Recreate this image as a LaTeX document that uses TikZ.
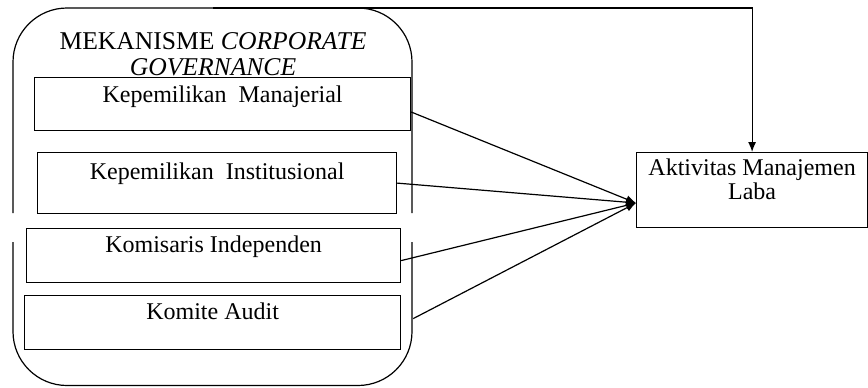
\documentclass[tikz,border=0pt]{standalone}
\usepackage{fontspec}
\setmainfont{Liberation Serif}
\usepackage{tikz}
\usetikzlibrary{positioning, arrows.meta, calc}

\begin{document}
\begin{tikzpicture}[x=0.5pt, y=-0.5pt, >={Latex[length=5pt,width=4pt]}, line width=0.6pt,
  font=\fontsize{12}{10}\selectfont,
  box/.style={draw, inner xsep=2pt, inner ysep=0pt, anchor=north west, align=center}]
  \useasboundingbox (0,0) rectangle (868,387);
  % wadah mekanisme corporate governance
  \draw[rounded corners=27pt] (13,213) -- (13,8) -- (412,8) -- (412,213);
  \draw[rounded corners=27pt] (13,242) -- (13,385.5) -- (412,385.5) -- (412,242);
  \coordinate (cgtop) at (213,8);
  \node[font=\fontsize{12.8}{13}\selectfont, align=center] (judul) at (213,54)
    {MEKANISME \textit{CORPORATE}\\\textit{GOVERNANCE}};
  % variabel independen
  \node[box, minimum width=188pt, text height=12.5pt, text depth=14pt] (km) at (34,77) {Kepemilikan\ \ Manajerial};
  \node[box, minimum width=179.5pt, text height=13.5pt, text depth=17pt] (ki) at (37,152) {Kepemilikan\ \ Institusional};
  \node[box, minimum width=187pt, text height=12pt, text depth=15pt] (kid) at (26,228) {Komisaris Independen};
  \node[box, minimum width=188pt, text height=12pt, text depth=15pt] (ka) at (24,295) {Komite Audit};
  % variabel dependen
  \node[box, minimum width=115.5pt, text height=23.5pt, text depth=14pt] (aml) at (636,152) {Aktivitas Manajemen\\Laba};
  \coordinate (tip) at ($(aml.north west)+(0,51)$);
  \draw[->] ($(km.north east)+(0,35)$) -- (tip);
  \draw[->] (ki.east) -- (tip);
  \draw[->] ($(kid.east)+(0,5)$) -- (tip);
  \draw[->] ($(ka.east)+(12,-4)$) -- (tip);
  \draw[->] (cgtop) -| (aml.north);
\end{tikzpicture}
\end{document}
